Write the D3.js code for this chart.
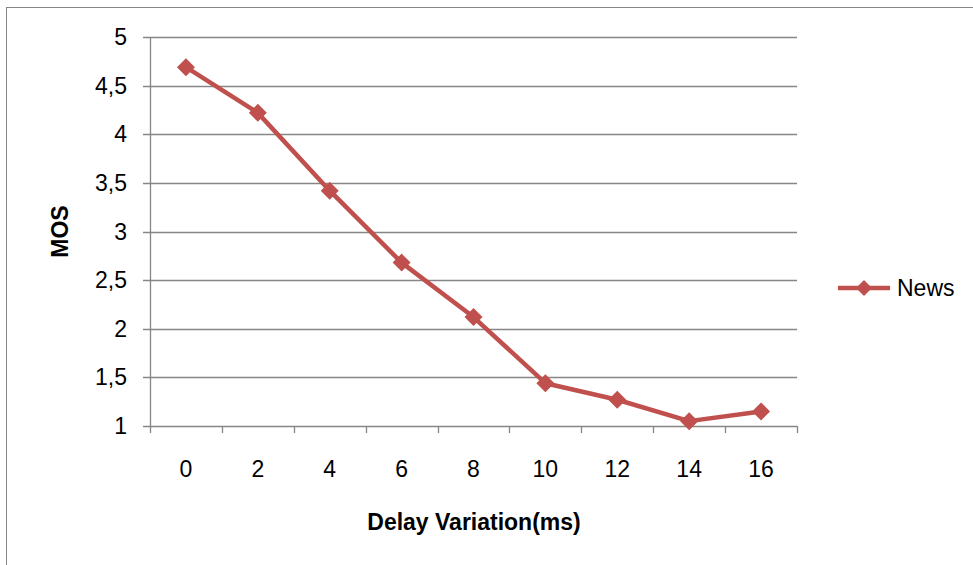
<!DOCTYPE html>
<html>
<head>
<meta charset="utf-8">
<script src="https://cdn.jsdelivr.net/npm/d3@7"></script>
<style>
    body { margin: 0; background: #fff; }
    svg { display: block; font-family: "Liberation Sans", Arial, sans-serif; }
</style>
</head>
<body>
<div id="chart"></div>
<script>
// data
const delays = ["0", "2", "4", "6", "8", "10", "12", "14", "16"];
const newsMos = [4.69, 4.22, 3.42, 2.68, 2.12, 1.44, 1.27, 1.05, 1.15];
const yTicks = [1, 1.5, 2, 2.5, 3, 3.5, 4, 4.5, 5];
const seriesName = "News";

const width = 973;
const height = 565;
const plot = { left: 150, right: 797, top: 37, bottom: 426 };
const red = "#c0504d";
const gridColor = "#868686";

const svg = d3.select("#chart")
    .append("svg")
    .attr("width", width)
    .attr("height", height);

// outer chart frame
svg.append("rect")
    .attr("x", 6.5)
    .attr("y", 7.5)
    .attr("width", 980)
    .attr("height", 580)
    .attr("fill", "none")
    .attr("stroke", gridColor)
    .attr("stroke-width", 1);

const x = d3.scaleBand()
    .domain(delays)
    .range([plot.left, plot.right]);

const y = d3.scaleLinear()
    .domain([1, 5])
    .range([plot.bottom, plot.top]);

const commaLocale = d3.formatLocale({ decimal: ",", thousands: ".", grouping: [3], currency: ["", ""] });
const fmt = commaLocale.format("~g");

// horizontal gridlines
svg.append("g")
    .selectAll("line")
    .data(yTicks)
    .enter()
    .append("line")
    .attr("x1", plot.left - 7)
    .attr("x2", plot.right)
    .attr("y1", d => Math.round(y(d)) + 0.5)
    .attr("y2", d => Math.round(y(d)) + 0.5)
    .attr("stroke", gridColor)
    .attr("stroke-width", 1.3);

// y axis line
svg.append("line")
    .attr("x1", plot.left + 0.5)
    .attr("x2", plot.left + 0.5)
    .attr("y1", plot.top)
    .attr("y2", plot.bottom)
    .attr("stroke", gridColor)
    .attr("stroke-width", 1.3);

// x tick marks between categories
const xEdges = delays.map(d => x(d)).concat([plot.right]);
svg.append("g")
    .selectAll("line")
    .data(xEdges)
    .enter()
    .append("line")
    .attr("x1", d => Math.round(d) + 0.5)
    .attr("x2", d => Math.round(d) + 0.5)
    .attr("y1", plot.bottom)
    .attr("y2", plot.bottom + 7)
    .attr("stroke", gridColor)
    .attr("stroke-width", 1.3);

// y tick labels
svg.append("g")
    .selectAll("text")
    .data(yTicks)
    .enter()
    .append("text")
    .attr("x", 127)
    .attr("y", d => y(d))
    .attr("dy", "0.35em")
    .attr("text-anchor", "end")
    .attr("font-size", 23)
    .attr("fill", "#000")
    .text(d => fmt(d));

// x tick labels
svg.append("g")
    .selectAll("text")
    .data(delays)
    .enter()
    .append("text")
    .attr("x", d => x(d) + x.bandwidth() / 2)
    .attr("y", 469)
    .attr("dy", "0.35em")
    .attr("text-anchor", "middle")
    .attr("font-size", 23)
    .attr("fill", "#000")
    .text(d => d);

// axis titles
svg.append("text")
    .attr("x", 474)
    .attr("y", 522)
    .attr("dy", "0.35em")
    .attr("text-anchor", "middle")
    .attr("font-size", 23)
    .attr("font-weight", "bold")
    .text("Delay Variation(ms)");

svg.append("text")
    .attr("transform", "translate(60," + ((plot.top + plot.bottom) / 2) + ") rotate(-90)")
    .attr("dy", "0.35em")
    .attr("text-anchor", "middle")
    .attr("font-size", 23)
    .attr("font-weight", "bold")
    .text("MOS");

// series line
const line = d3.line()
    .x((d, i) => x(delays[i]) + x.bandwidth() / 2)
    .y(d => y(d));

svg.append("path")
    .datum(newsMos)
    .attr("d", line)
    .attr("fill", "none")
    .attr("stroke", red)
    .attr("stroke-width", 4.5)
    .attr("stroke-linejoin", "round");

svg.append("g")
    .selectAll("path")
    .data(newsMos)
    .enter()
    .append("path")
    .attr("d", "M0,-9L9,0L0,9L-9,0Z")
    .attr("transform", (d, i) => "translate(" + (x(delays[i]) + x.bandwidth() / 2) + "," + y(d) + ")")
    .attr("fill", red);

// legend
const legend = svg.append("g").attr("transform", "translate(838,288)");
legend.append("line")
    .attr("x1", 0)
    .attr("x2", 52)
    .attr("y1", 0)
    .attr("y2", 0)
    .attr("stroke", red)
    .attr("stroke-width", 4.5);
legend.append("path")
    .attr("d", "M0,-8L8,0L0,8L-8,0Z")
    .attr("transform", "translate(26,0)")
    .attr("fill", red);
legend.append("text")
    .attr("x", 59)
    .attr("y", 0)
    .attr("dy", "0.35em")
    .attr("font-size", 23)
    .text(seriesName);
</script>
</body>
</html>
